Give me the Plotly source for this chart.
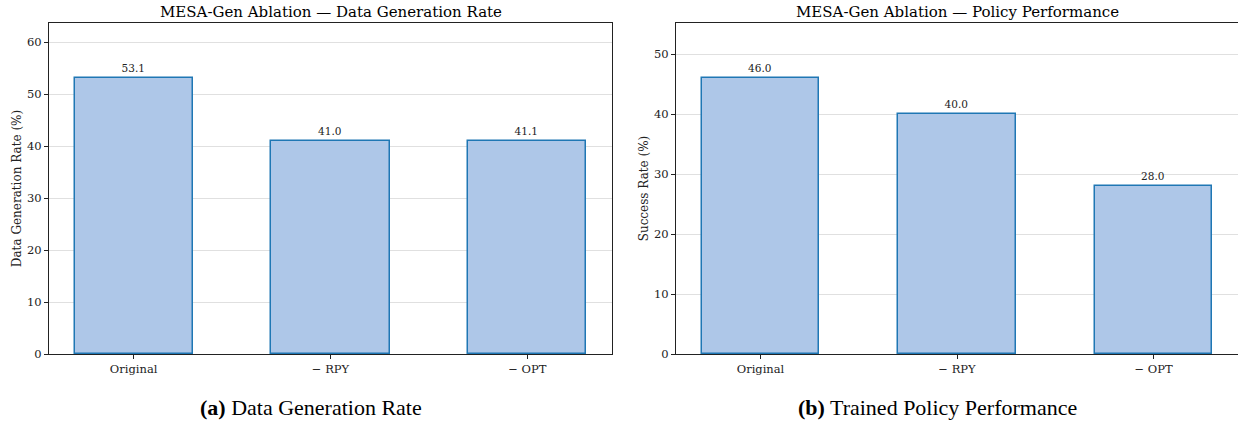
import plotly.graph_objects as go

categories = ["Original", "\u2212 RPY", "\u2212 OPT"]
gen_rate = [53.1, 41.0, 41.1]
success_rate = [46.0, 40.0, 28.0]

FILL = "#aec7e8"
EDGE = "#1f77b4"
FONT = "DejaVu Serif"

OFF = 0  # page body margin removed via post_script
W, H = 1238 - OFF, 421 - OFF

# target page-pixel geometry
PX_L1, PX_R1 = 49, 612
PX_L2, PX_R2 = 676, 1238
PX_TOP, PX_BOT = 23, 354

L = PX_L1 - OFF
T = PX_TOP - OFF
B = H - (PX_BOT - OFF)
R = W - (PX_R2 - OFF)
pw = W - L - R
ph = H - T - B

def xp(px):
    return (px - PX_L1) / pw

def yp(py):
    return (PX_BOT - py) / ph

fig = go.Figure()
fig.add_trace(go.Bar(
    x=[0, 1, 2], y=gen_rate, width=0.6, xaxis="x", yaxis="y",
    marker=dict(color=FILL, line=dict(color=EDGE, width=1.5)),
    text=[f"{v:.1f}" for v in gen_rate], textposition="outside",
    textfont=dict(family=FONT, size=10.5, color="#222"), cliponaxis=False,
    showlegend=False,
))
fig.add_trace(go.Bar(
    x=[0, 1, 2], y=success_rate, width=0.6, xaxis="x2", yaxis="y2",
    marker=dict(color=FILL, line=dict(color=EDGE, width=1.5)),
    text=[f"{v:.1f}" for v in success_rate], textposition="outside",
    textfont=dict(family=FONT, size=10.5, color="#222"), cliponaxis=False,
    showlegend=False,
))

axis_common = dict(showline=True, linecolor="#222", linewidth=1.2, mirror=True,
                   ticks="outside", ticklen=4, tickcolor="#222",
                   tickfont=dict(family=FONT, size=11.5, color="#222"))

fig.update_layout(
    width=W, height=H,
    margin=dict(l=L, r=R, t=T, b=B),
    plot_bgcolor="white", paper_bgcolor="white",
    bargap=0,
    xaxis=dict(domain=[0, xp(PX_R1)], range=[-0.43, 2.43],
               tickvals=[0, 1, 2], ticktext=categories, showgrid=False,
               automargin=False, **axis_common),
    yaxis=dict(range=[0, max(gen_rate) * 1.2], dtick=10, showgrid=True,
               gridcolor="#e0e0e0", gridwidth=1, zeroline=False,
               title=dict(text="Data Generation Rate (%)",
                          font=dict(family=FONT, size=12, color="#222"), standoff=2),
               automargin=False, **axis_common),
    xaxis2=dict(domain=[xp(PX_L2), 1], range=[-0.43, 2.43], anchor="y2",
                tickvals=[0, 1, 2], ticktext=categories, showgrid=False,
                automargin=False, **axis_common),
    yaxis2=dict(range=[0, max(success_rate) * 1.2], dtick=10, anchor="x2",
                showgrid=True, gridcolor="#e0e0e0", gridwidth=1, zeroline=False,
                title=dict(text="Success Rate (%)",
                           font=dict(family=FONT, size=12, color="#222"), standoff=2),
                automargin=False, **axis_common),
    annotations=[
        dict(text="MESA-Gen Ablation \u2014 Data Generation Rate",
             x=xp((PX_L1 + PX_R1) / 2), xref="paper", xanchor="center",
             y=yp(12), yref="paper", yanchor="middle", showarrow=False,
             font=dict(family=FONT, size=15, color="black")),
        dict(text="MESA-Gen Ablation \u2014 Policy Performance",
             x=xp((PX_L2 + PX_R2) / 2), xref="paper", xanchor="center",
             y=yp(12), yref="paper", yanchor="middle", showarrow=False,
             font=dict(family=FONT, size=15, color="black")),
        dict(text="<b>(a)</b> Data Generation Rate", x=xp(311), xref="paper",
             xanchor="center", y=yp(407), yref="paper", yanchor="middle",
             showarrow=False,
             font=dict(family="Liberation Serif", size=22, color="black")),
        dict(text="<b>(b)</b> Trained Policy Performance", x=xp(937), xref="paper",
             xanchor="center", y=yp(407), yref="paper", yanchor="middle",
             showarrow=False,
             font=dict(family="Liberation Serif", size=22, color="black")),
    ],
)

fig.write_html("out.html", config={"displayModeBar": False},
               post_script="document.body.style.margin='0';document.body.style.overflow='hidden';")
